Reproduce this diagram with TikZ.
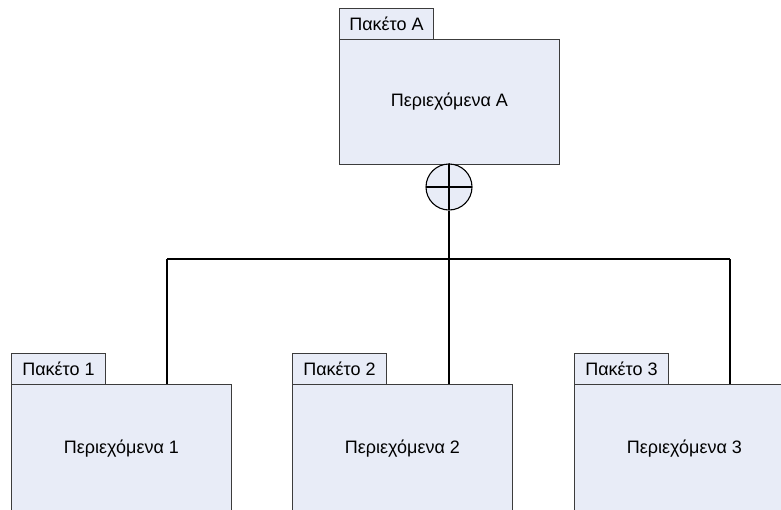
\documentclass[tikz,border=0pt]{standalone}
\usepackage{fontspec}
\setmainfont{Liberation Sans}
\definecolor{pkgblue}{HTML}{E8ECF7}
\definecolor{pkgline}{HTML}{3C3C3C}
\begin{document}
\begin{tikzpicture}[x=1pt,y=-1pt,
  pkgfill/.style={fill=pkgblue, draw=pkgline, line width=0.9pt},
  labelfont/.style={font=\fontsize{18}{21}\selectfont},
  tabbox/.style={pkgfill, labelfont, anchor=north west, minimum width=94pt,
    minimum height=31pt, inner sep=0pt},
  bodybox/.style={pkgfill, labelfont, anchor=north west, minimum width=220pt,
    minimum height=125pt, inner sep=0pt},
  lowbody/.style={bodybox, minimum height=128pt},
  wire/.style={draw=black, line width=1.4pt},
  joint/.style={circle, fill=pkgblue, draw=black, line width=1.1pt,
    minimum size=46pt, inner sep=0pt,
    path picture={
      \draw[line width=1.1pt] (path picture bounding box.west) -- (path picture bounding box.east);
      \draw[line width=1.4pt] (path picture bounding box.north) -- (path picture bounding box.south);
    }}]
\useasboundingbox (0,0) rectangle (781,509);
\clip (0,0) rectangle (781,509);

% container package
\node[tabbox]  (tA) at (339,8)  {Πακέτο A};
\node[bodybox] (bA) at (339,39) {Περιεχόμενα A};

% contained packages
\node[tabbox]  (t1) at (11,353)  {Πακέτο 1};
\node[lowbody] (b1) at (11,384)  {Περιεχόμενα 1};
\node[tabbox]  (t2) at (292,353) {Πακέτο 2};
\node[lowbody] (b2) at (292,384) {Περιεχόμενα 2};
\node[tabbox]  (t3) at (574,353) {Πακέτο 3};
\node[lowbody] (b3) at (574,384) {Περιεχόμενα 3};

% containment symbol (circle with cross)
\node[joint] (plus) at (449,187) {};

% connector tree
\coordinate (bus) at (449,259);
\coordinate (j1) at (167,259);
\coordinate (j3) at (730,259);
\draw[wire] (bA.south) -- (plus.north);
\draw[wire] (plus.south) -- (bus |- b2.north);
\draw[wire] (j1) -- (j3);
\draw[wire] (j1) -- (j1 |- b1.north);
\draw[wire] (j3) -- (j3 |- b3.north);
\end{tikzpicture}
\end{document}
